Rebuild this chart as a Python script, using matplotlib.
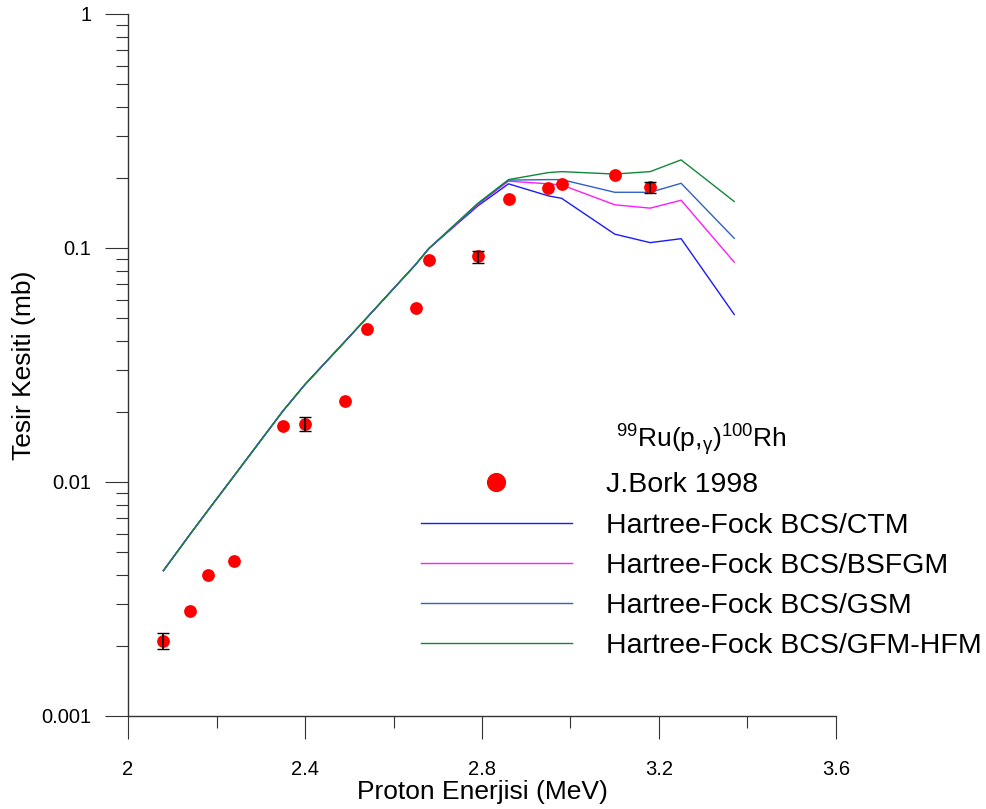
import numpy as np
import matplotlib
matplotlib.use('Agg')
import matplotlib.pyplot as plt
from matplotlib.ticker import FixedLocator, FixedFormatter, LogLocator, NullFormatter

plt.rcParams['font.family'] = ['Liberation Sans', 'DejaVu Sans']
plt.rcParams['mathtext.default'] = 'regular'

# experimental data (J.Bork 1998)
exp_energy = [2.08, 2.14, 2.18, 2.24, 2.35, 2.40, 2.49, 2.54, 2.65, 2.68,
              2.79, 2.86, 2.95, 2.98, 3.10, 3.18]
exp_xs = [0.0021, 0.0028, 0.0040, 0.0046, 0.0174, 0.0177, 0.0222, 0.0452,
          0.0553, 0.089, 0.092, 0.162, 0.181, 0.187, 0.206, 0.182]
exp_err = [0.00016, 0, 0, 0, 0, 0.0012, 0, 0, 0, 0,
           0.0055, 0, 0, 0, 0, 0.010]

# theoretical curves
th_energy = [2.08, 2.14, 2.18, 2.24, 2.35, 2.40, 2.49, 2.54, 2.65, 2.68,
             2.79, 2.86, 2.95, 2.98, 3.10, 3.18, 3.25, 3.37]
th_low = [0.00418, 0.00597, 0.00753, 0.01064, 0.0201, 0.0261, 0.0398,
          0.0504, 0.085, 0.0995]
ctm = th_low + [0.151, 0.188, 0.167, 0.163, 0.1146, 0.1054, 0.1096, 0.052]
bsfgm = th_low + [0.153, 0.193, 0.188, 0.186, 0.153, 0.148, 0.160, 0.087]
gsm = th_low + [0.154, 0.195, 0.196, 0.196, 0.173, 0.173, 0.189, 0.110]
gfm_hfm = th_low + [0.155, 0.196, 0.210, 0.212, 0.207, 0.212, 0.238, 0.158]

labels = ['Hartree-Fock BCS/CTM', 'Hartree-Fock BCS/BSFGM',
          'Hartree-Fock BCS/GSM', 'Hartree-Fock BCS/GFM-HFM']
colors = ['#1a1aff', '#ff1aff', '#3060c8', '#12873a']

fig = plt.figure(figsize=(9.87, 8.09), dpi=100)
ax = fig.add_axes([0.1297, 0.115, 0.7173, 0.8677])

ax.plot(exp_energy, exp_xs, 'o', color='#ff0000', markersize=9.2,
        markeredgewidth=0, label='J.Bork 1998', zorder=3)

xe = np.array(exp_energy)
ye = np.array(exp_xs)
ee = np.array(exp_err)
m = ee > 0
ax.errorbar(xe[m], ye[m], yerr=ee[m], fmt='none', ecolor='black',
            elinewidth=1.2, capsize=4.5, capthick=1.0, zorder=4)

for vals, lab, c in zip([ctm, bsfgm, gsm, gfm_hfm], labels, colors):
    ax.plot(th_energy, vals, '-', color=c, lw=1.0, label=lab, zorder=2)

ax.set_yscale('log')
ax.set_ylim(0.001, 1)
ax.set_xlim(2, 3.6)

ax.xaxis.set_major_locator(FixedLocator([2, 2.4, 2.8, 3.2, 3.6]))
ax.xaxis.set_major_formatter(FixedFormatter(['2', '2.4', '2.8', '3.2', '3.6']))
ax.xaxis.set_minor_locator(FixedLocator([2.2, 2.6, 3.0, 3.4]))
ax.yaxis.set_major_locator(FixedLocator([0.001, 0.01, 0.1, 1]))
ax.yaxis.set_major_formatter(FixedFormatter(['0.001', '0.01', '0.1', '1']))
ax.yaxis.set_minor_locator(LogLocator(base=10, subs=np.arange(2, 10)))
ax.yaxis.set_minor_formatter(NullFormatter())

for s in ['top', 'right']:
    ax.spines[s].set_visible(False)
for s in ['left', 'bottom']:
    ax.spines[s].set_color('#333333')
    ax.spines[s].set_linewidth(1.0)

ax.tick_params(which='major', direction='out', length=16.5, width=0.8,
               color='#333333', labelsize=14.5)
ax.tick_params(which='minor', direction='out', length=8.5, width=0.8,
               color='#333333')
ax.tick_params(axis='x', which='major', pad=15)
ax.tick_params(axis='y', which='major', pad=10)

ax.set_xlabel('Proton Enerjisi (MeV)', fontsize=19, labelpad=1)
ax.set_ylabel('Tesir Kesiti (mb)', fontsize=19, labelpad=4)

leg = ax.legend(loc='upper left', bbox_to_anchor=(0.4265, 0.478),
                bbox_transform=fig.transFigure, frameon=False,
                fontsize=20.5, handlelength=5.3, handletextpad=1.2,
                labelspacing=0.5, borderpad=0, borderaxespad=0,
                markerscale=1.5,
                title=r'$^{99}$Ru(p,$_{γ}$)$^{100}$Rh',
                title_fontproperties={'size': 19, 'family': 'Liberation Sans'})

fig.savefig('out.png', dpi=100)
